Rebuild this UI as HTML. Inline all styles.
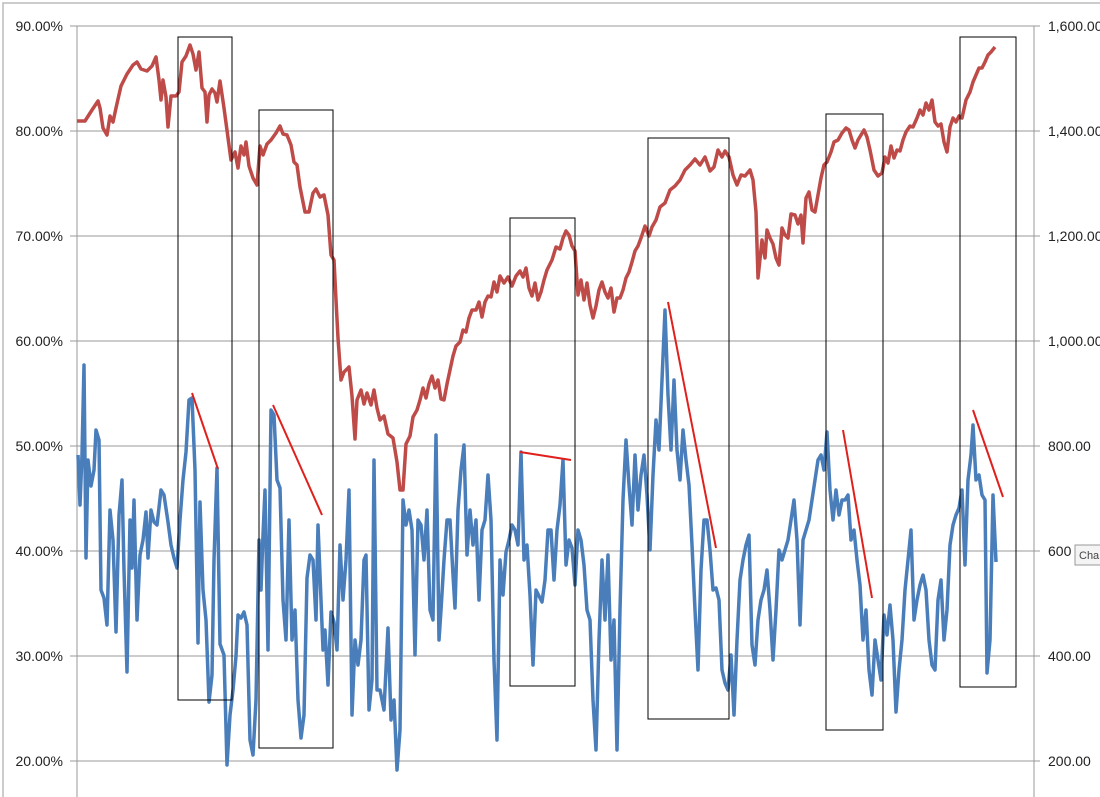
<!DOCTYPE html>
<html><head><meta charset="utf-8"><style>
body{margin:0;background:#fff;}
svg{display:block;font-family:"Liberation Sans",sans-serif;}
</style></head><body>
<svg width="1100" height="797" viewBox="0 0 1100 797">
<rect x="3" y="3" width="1110" height="800" fill="#fff" stroke="#bbb" stroke-width="1.5"/>
<g stroke="#999" stroke-width="1">
<line x1="70" y1="26" x2="1040" y2="26"/><line x1="70" y1="131" x2="1040" y2="131"/>
<line x1="70" y1="236" x2="1040" y2="236"/><line x1="70" y1="341" x2="1040" y2="341"/>
<line x1="70" y1="446" x2="1040" y2="446"/><line x1="70" y1="551" x2="1040" y2="551"/>
<line x1="70" y1="656" x2="1040" y2="656"/><line x1="70" y1="761" x2="1040" y2="761"/>
<line x1="77" y1="26" x2="77" y2="797"/><line x1="1034" y1="26" x2="1034" y2="797"/>
</g>
<g font-size="14" fill="#222" text-anchor="end">
<text x="63" y="31">90.00%</text><text x="63" y="136">80.00%</text><text x="63" y="241">70.00%</text>
<text x="63" y="346">60.00%</text><text x="63" y="451">50.00%</text><text x="63" y="556">40.00%</text>
<text x="63" y="661">30.00%</text><text x="63" y="766">20.00%</text>
</g>
<g font-size="14" fill="#222">
<text x="1048" y="31">1,600.00</text><text x="1048" y="136">1,400.00</text><text x="1048" y="241">1,200.00</text>
<text x="1048" y="346">1,000.00</text><text x="1048" y="451">800.00</text><text x="1048" y="556">600</text>
<text x="1048" y="661">400.00</text><text x="1048" y="766">200.00</text>
</g>
<rect x="1075" y="545" width="30" height="20" fill="#f4f4f4" stroke="#999"/>
<text x="1079" y="559" font-size="11" fill="#444">Cha</text>
<polyline fill="none" stroke="#be4b48" stroke-width="3.5" stroke-linejoin="round" points="77,121 85,121 92,110 98,101 100,108 103,128 107,135 110,116 113,122 116,108 121,86 127,74 133,65 137,62 141,69 147,71 152,66 156,57 159,80 161,100 163,80 166,97 168,127 171,96 176,96 179,92 182,62 186,56 190,45 193,54 196,70 199,52 202,88 205,92 207,122 209,95 212,89 215,93 217,102 220,81 224,108 231,160 235,152 238,168 241,146 244,155 246,142 249,166 253,178 257,185 260,146 263,155 267,144 271,140 276,133 280,126 283,134 287,135 291,145 294,162 297,165 300,187 305,212 309,212 313,193 316,189 320,197 324,195 328,215 331,255 334,260 336,300 338,338 341,380 344,372 349,367 352,396 355,439 357,400 361,390 364,404 367,393 371,405 374,390 377,408 380,420 384,416 388,434 393,438 397,462 400,490 403,490 406,444 410,436 413,417 417,410 420,400 423,388 426,398 429,384 432,376 435,388 438,380 441,399 444,400 447,384 450,370 453,356 456,346 460,342 463,330 466,332 469,318 472,310 476,310 479,302 482,317 485,302 488,296 491,297 494,282 497,292 500,276 504,283 508,277 512,286 516,276 520,271 523,277 526,268 529,288 532,296 535,283 538,300 541,292 544,280 547,270 552,260 556,247 560,249 563,238 566,231 569,235 572,246 575,251 578,295 581,280 584,300 587,283 590,305 593,318 596,306 599,290 602,282 605,292 608,298 611,288 614,312 617,298 620,298 623,290 626,278 629,272 632,262 635,251 638,246 641,238 645,226 649,236 652,227 656,220 660,207 665,203 670,190 675,186 680,180 685,170 690,165 695,159 700,165 705,157 710,171 714,167 718,150 722,157 725,151 729,157 733,175 737,185 741,175 745,176 750,170 753,180 756,212 758,278 762,240 765,258 767,230 770,238 773,244 776,258 779,265 782,228 785,235 788,238 791,214 795,215 798,224 801,215 803,243 806,198 809,192 812,210 815,212 818,195 821,178 824,165 827,162 831,152 834,142 838,140 842,133 846,128 849,130 852,140 855,148 858,140 861,135 864,130 867,137 870,150 874,170 878,176 882,173 885,157 888,163 891,146 894,158 897,150 900,151 903,140 906,132 910,126 913,127 917,118 920,110 923,115 926,103 929,110 932,100 935,122 938,126 941,124 944,142 947,152 950,127 953,118 956,122 959,116 962,118 966,100 970,92 973,82 976,75 979,68 982,68 985,62 988,55 991,52 995,47"/>
<polyline fill="none" stroke="#4a7ebb" stroke-width="3.5" stroke-linejoin="round" points="78,455 80,505 82,455 84,365 86,558 88,460 91,486 94,470 96,430 99,440 101,590 104,598 107,625 110,510 113,540 116,632 119,515 122,480 124,570 127,672 130,520 132,568 134,500 137,620 140,555 143,540 146,512 148,558 151,510 154,522 157,525 161,490 164,495 168,522 171,545 174,558 177,568 180,520 183,480 186,452 189,400 192,398 195,470 198,643 200,502 203,590 206,620 209,702 212,675 214,560 217,468 220,644 224,655 227,765 230,715 233,690 236,656 238,615 241,618 244,612 247,625 250,740 253,755 256,700 259,540 261,590 263,535 265,490 268,650 271,410 274,415 277,480 280,488 283,600 286,640 289,520 292,640 295,610 298,700 301,738 304,715 307,578 310,555 313,560 316,620 318,525 321,600 323,650 325,630 328,685 331,612 334,622 337,650 340,545 343,600 346,560 349,490 352,715 355,640 358,665 361,640 364,560 366,555 369,710 372,680 374,460 377,690 380,690 384,710 388,628 391,720 394,700 397,770 400,730 403,500 406,525 409,510 412,530 415,655 418,520 421,525 424,560 427,510 430,610 433,620 436,435 439,640 441,610 444,560 447,520 450,520 453,575 455,608 458,510 461,470 464,445 467,555 470,510 473,545 476,520 479,600 482,530 485,520 488,475 491,520 494,660 497,740 500,560 503,595 506,552 509,540 512,525 515,530 518,545 521,452 524,560 527,545 530,595 533,665 536,590 539,596 542,602 545,580 548,530 551,530 554,580 557,530 560,505 563,460 566,565 569,540 572,548 575,585 578,530 581,540 584,565 587,610 590,620 593,700 596,750 599,640 602,560 605,620 608,555 611,660 614,620 617,750 620,610 623,500 626,440 629,485 632,525 635,455 638,510 641,475 644,455 647,495 650,550 653,475 656,420 659,450 662,380 665,310 668,395 671,450 674,380 677,450 680,480 683,430 686,460 689,485 692,545 695,610 698,670 701,570 704,520 707,520 710,550 713,590 716,588 719,600 722,670 725,683 728,690 731,655 734,715 737,640 740,580 743,560 746,545 749,535 752,645 755,665 758,620 761,600 764,590 767,570 770,610 773,660 776,610 779,550 782,560 785,550 788,540 791,520 794,500 797,540 800,625 803,540 806,530 809,520 812,500 815,480 818,460 821,455 824,470 827,432 830,490 833,520 836,490 839,515 842,500 845,500 848,495 851,540 854,530 857,560 860,585 863,640 866,610 869,670 872,695 875,640 878,660 881,680 884,615 887,635 890,605 893,640 896,712 899,670 902,640 905,590 908,560 911,530 914,620 917,600 920,585 923,575 926,590 929,640 932,665 935,670 938,600 941,580 944,640 947,610 950,545 953,525 956,515 959,508 962,490 965,565 968,480 971,455 973,425 976,480 979,475 982,495 985,500 987,673 990,640 993,495 996,562"/>
<g fill="none" stroke="#000" stroke-width="1">
<rect x="178" y="37" width="54" height="663"/>
<rect x="259" y="110" width="74" height="638"/>
<rect x="510" y="218" width="65" height="468"/>
<rect x="648" y="138" width="81" height="581"/>
<rect x="826" y="114" width="57" height="616"/>
<rect x="960" y="37" width="56" height="650"/>
</g>
<g stroke="#e0201c" stroke-width="2">
<line x1="192" y1="393" x2="218" y2="469"/>
<line x1="273" y1="405" x2="322" y2="515"/>
<line x1="520" y1="452" x2="571" y2="460"/>
<line x1="668" y1="302" x2="716" y2="548"/>
<line x1="843" y1="430" x2="872" y2="598"/>
<line x1="973" y1="410" x2="1003" y2="497"/>
</g>
</svg>
</body></html>
